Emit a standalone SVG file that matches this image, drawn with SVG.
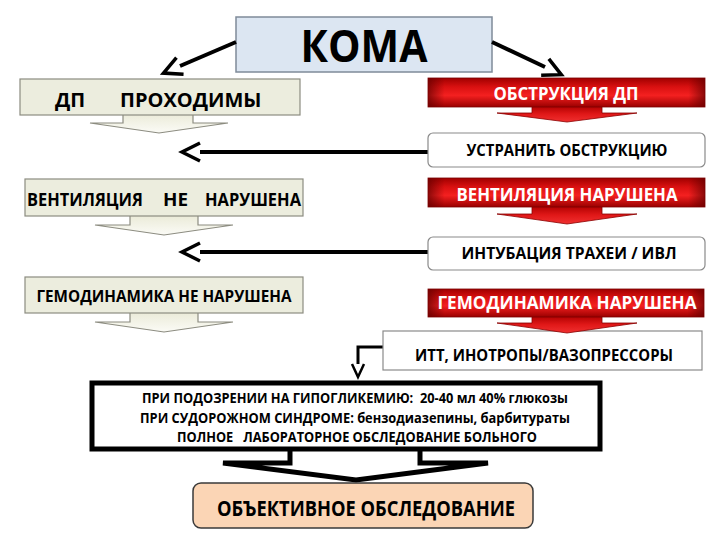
<svg xmlns="http://www.w3.org/2000/svg" width="720" height="540" viewBox="0 0 720 540">
<defs>
  <linearGradient id="redV" x1="0" y1="0" x2="0" y2="1">
    <stop offset="0" stop-color="#a00000"/>
    <stop offset="0.3" stop-color="#d81010"/>
    <stop offset="0.6" stop-color="#f42020"/>
    <stop offset="1" stop-color="#9a0000"/>
  </linearGradient>
  <linearGradient id="redH" x1="0" y1="0" x2="1" y2="0">
    <stop offset="0" stop-color="#600000" stop-opacity="0.7"/>
    <stop offset="0.06" stop-color="#600000" stop-opacity="0"/>
    <stop offset="0.94" stop-color="#600000" stop-opacity="0"/>
    <stop offset="1" stop-color="#600000" stop-opacity="0.7"/>
  </linearGradient>
  <linearGradient id="redA" x1="0" y1="0" x2="0" y2="1">
    <stop offset="0" stop-color="#b00000"/>
    <stop offset="0.5" stop-color="#e01818"/>
    <stop offset="1" stop-color="#f03030"/>
  </linearGradient>
  <linearGradient id="begA" x1="0" y1="0" x2="0" y2="1">
    <stop offset="0" stop-color="#ebebd9"/>
    <stop offset="1" stop-color="#fbfbf6"/>
  </linearGradient>
  <marker id="chev" viewBox="0 0 22 22" refX="2" refY="11" markerWidth="22" markerHeight="22" markerUnits="userSpaceOnUse" orient="auto" overflow="visible">
    <path d="M2,2 L20,11 L2,20" fill="none" stroke="#000" stroke-width="3.5"/>
  </marker>
  <marker id="chevS" viewBox="0 0 16 14" refX="1" refY="7" markerWidth="16" markerHeight="14" markerUnits="userSpaceOnUse" orient="auto" overflow="visible">
    <path d="M1,1 L14,7 L1,13" fill="none" stroke="#000" stroke-width="2.5"/>
  </marker>
</defs>
<style>
  text { font-family: "Open Sans", "Noto Sans", "DejaVu Sans", sans-serif; font-weight: 700; text-anchor: middle; }
  .beige { fill: #ecedde; stroke: #8c8c80; stroke-width: 1.2; }
  .begarrow { fill: url(#begA); stroke: #8c8c80; stroke-width: 1.2; }
  .white { fill: #fff; stroke: #8a8a8a; stroke-width: 1.2; }
  .conn { fill: none; stroke: #000; stroke-width: 4; }
  .blk { fill: #fff; stroke: #000; stroke-width: 5; }
  .wt { fill: #fff; }
  .bt { fill: #000; }
</style>

<g id="koma">
  <rect x="236" y="17" width="256" height="55" fill="#dce6f2" stroke="#7f8b99" stroke-width="1.5"/>
  <text x="364" y="62" font-size="44" textLength="127" lengthAdjust="spacingAndGlyphs" class="bt">КОМА</text>
</g>

<g id="connectors">
  <line x1="236" y1="42" x2="180" y2="66" class="conn" marker-end="url(#chev)"/>
  <line x1="492" y1="42" x2="545" y2="67" class="conn" marker-end="url(#chev)"/>
  <line x1="428" y1="152" x2="200" y2="152" class="conn" marker-end="url(#chev)"/>
  <line x1="428" y1="252" x2="200" y2="252" class="conn" marker-end="url(#chev)"/>
  <path d="M383,347 H358 V364" fill="none" stroke="#000" stroke-width="3" marker-end="url(#chevS)"/>
</g>

<g id="dp-prohodimy">
  <path d="M123,114 V123 H90 L159,133 L228,123 H193 V114" class="begarrow"/>
  <rect x="20" y="79" width="280" height="36" class="beige"/>
  <text y="107" font-size="20" class="bt" style="text-anchor:start"><tspan x="55">ДП</tspan> <tspan x="120">ПРОХОДИМЫ</tspan></text>
</g>

<g id="vent-ne-narushena">
  <path d="M130,216 V225 H95 L164,235 L233,225 H198 V216" class="begarrow"/>
  <rect x="25" y="179" width="278" height="37" class="beige"/>
  <text y="206" font-size="17" class="bt" style="text-anchor:start"><tspan x="27" textLength="116" lengthAdjust="spacingAndGlyphs">ВЕНТИЛЯЦИЯ</tspan> <tspan x="163" textLength="25" lengthAdjust="spacingAndGlyphs">НЕ</tspan> <tspan x="205" textLength="96" lengthAdjust="spacingAndGlyphs">НАРУШЕНА</tspan></text>
</g>

<g id="gemo-ne-narushena">
  <path d="M130,313 V322 H95 L164,332 L233,322 H198 V313" class="begarrow"/>
  <rect x="25" y="277" width="278" height="36" class="beige"/>
  <text x="164" y="302" font-size="16" textLength="255" lengthAdjust="spacingAndGlyphs" class="bt">ГЕМОДИНАМИКА НЕ НАРУШЕНА</text>
</g>

<g id="obstrukciya">
  <path d="M532,106 V113 H497 L567,122 L637,113 H602 V106 Z" fill="url(#redA)" stroke="#8a0000" stroke-width="0.8"/>
  <rect x="428" y="78" width="277" height="29" fill="url(#redV)"/>
  <rect x="428" y="78" width="277" height="29" fill="url(#redH)" stroke="#7a0000" stroke-width="0.8"/>
  <text x="566" y="100" font-size="17" textLength="145" lengthAdjust="spacingAndGlyphs" class="wt">ОБСТРУКЦИЯ ДП</text>
</g>

<g id="ustranit">
  <rect x="428" y="133" width="277" height="34" rx="5" class="white"/>
  <text x="567" y="156" font-size="16.5" textLength="201" lengthAdjust="spacingAndGlyphs" class="bt">УСТРАНИТЬ ОБСТРУКЦИЮ</text>
</g>

<g id="vent-narushena">
  <path d="M532,206 V214 H497 L567,224 L637,214 H602 V206 Z" fill="url(#redA)" stroke="#8a0000" stroke-width="0.8"/>
  <rect x="428" y="178" width="277" height="29" fill="url(#redV)"/>
  <rect x="428" y="178" width="277" height="29" fill="url(#redH)" stroke="#7a0000" stroke-width="0.8"/>
  <text x="567" y="201" font-size="17" textLength="221" lengthAdjust="spacingAndGlyphs" class="wt">ВЕНТИЛЯЦИЯ НАРУШЕНА</text>
</g>

<g id="intubaciya">
  <rect x="428" y="237" width="277" height="33" rx="5" class="white"/>
  <text x="569" y="259" font-size="16.5" textLength="215" lengthAdjust="spacingAndGlyphs" class="bt">ИНТУБАЦИЯ ТРАХЕИ / ИВЛ</text>
</g>

<g id="itt">
  <rect x="383" y="331" width="319" height="39" class="white"/>
  <text x="544" y="361" font-size="16.5" textLength="258" lengthAdjust="spacingAndGlyphs" class="bt">ИТТ, ИНОТРОПЫ/ВАЗОПРЕССОРЫ</text>
</g>

<g id="gemo-narushena">
  <path d="M532,316 V323 H497 L567,333 L637,323 H602 V316 Z" fill="url(#redA)" stroke="#8a0000" stroke-width="0.8"/>
  <rect x="428" y="289" width="276" height="28" fill="url(#redV)"/>
  <rect x="428" y="289" width="276" height="28" fill="url(#redH)" stroke="#7a0000" stroke-width="0.8"/>
  <text x="567" y="309" font-size="17" textLength="259" lengthAdjust="spacingAndGlyphs" class="wt">ГЕМОДИНАМИКА НАРУШЕНА</text>
</g>

<g id="meropriyatiya">
  <path d="M290,449 V463 H223 L356,480 L488,463 H420 V449" class="blk"/>
  <rect x="92" y="383" width="508" height="66" class="blk"/>
  <text x="355" y="403" font-size="13.5" textLength="426" lengthAdjust="spacingAndGlyphs" class="bt" xml:space="preserve">ПРИ ПОДОЗРЕНИИ НА ГИПОГЛИКЕМИЮ:  20-40 мл 40% глюкозы</text>
  <text x="355" y="423" font-size="13.5" textLength="430" lengthAdjust="spacingAndGlyphs" class="bt">ПРИ СУДОРОЖНОМ СИНДРОМЕ: бензодиазепины, барбитураты</text>
  <text x="357" y="442" font-size="13.5" textLength="360" lengthAdjust="spacingAndGlyphs" class="bt" xml:space="preserve">ПОЛНОЕ   ЛАБОРАТОРНОЕ ОБСЛЕДОВАНИЕ БОЛЬНОГО</text>
</g>

<g id="obektivnoe">
  <rect x="193" y="483" width="340" height="45" rx="8" fill="#fbd5b5" stroke="#3a3a3a" stroke-width="1.5"/>
  <text x="366" y="516" font-size="21" textLength="298" lengthAdjust="spacingAndGlyphs" class="bt">ОБЪЕКТИВНОЕ ОБСЛЕДОВАНИЕ</text>
</g>
</svg>
